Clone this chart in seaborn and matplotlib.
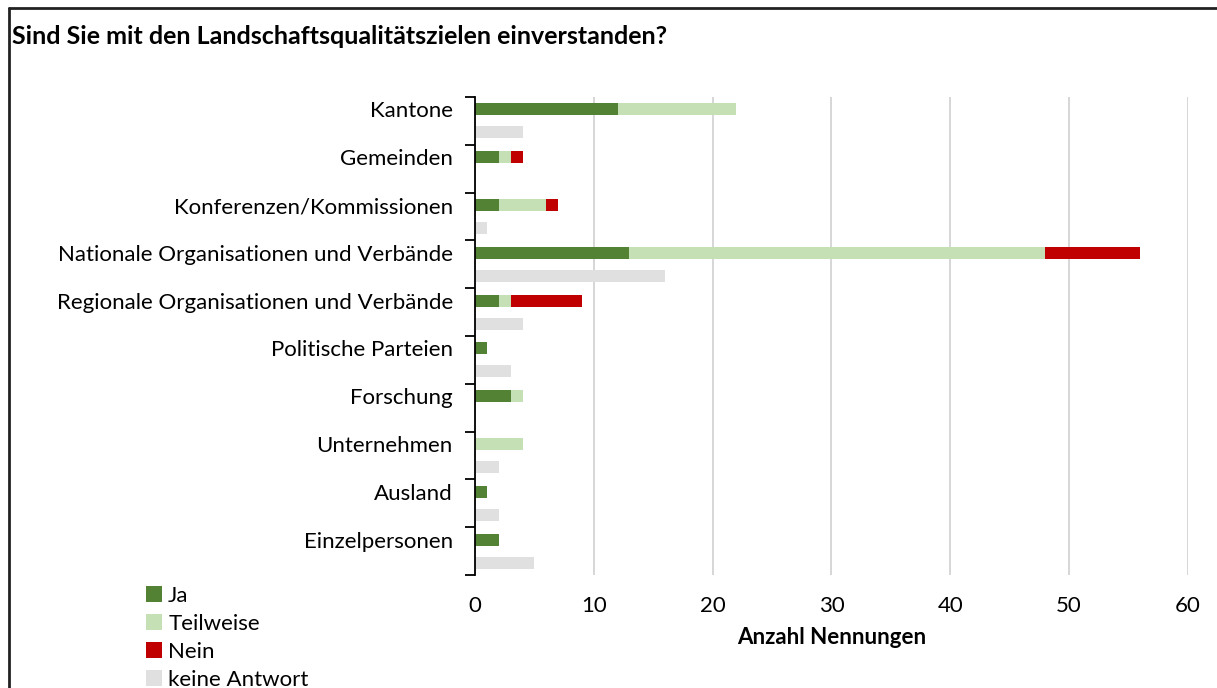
import numpy as np
import pandas as pd
import seaborn as sns
import matplotlib.pyplot as plt
from matplotlib.patches import Patch
from matplotlib.lines import Line2D

# Werte
gruppen = ["Kantone", "Gemeinden", "Konferenzen/Kommissionen",
           "Nationale Organisationen und Verbände",
           "Regionale Organisationen und Verbände", "Politische Parteien",
           "Forschung", "Unternehmen", "Ausland", "Einzelpersonen"]
ja = [12, 2, 2, 13, 2, 1, 3, 0, 1, 2]
teilweise = [10, 1, 4, 35, 1, 0, 1, 4, 0, 0]
nein = [0, 1, 1, 8, 6, 0, 0, 0, 0, 0]
keine_antwort = [4, 0, 1, 16, 4, 3, 0, 2, 2, 5]

farben = {"Ja": "#548235", "Teilweise": "#C5E0B4", "Nein": "#C00000",
          "keine Antwort": "#E0E0E0"}

sns.set_style("white")
plt.rcParams['font.family'] = ['Lato', 'DejaVu Sans']
plt.rcParams['text.color'] = 'black'
plt.rcParams['xtick.color'] = 'black'
plt.rcParams['ytick.color'] = 'black'
plt.rcParams['axes.labelcolor'] = 'black'
fs = 16

fig = plt.figure(figsize=(12.17, 6.88), dpi=100)
ax = fig.add_axes([475 / 1217, 1 - 575 / 688, (1188 - 475) / 1217, (575 - 97) / 688])

n = len(gruppen)
ja_a = np.array(ja)
teil_a = ja_a + np.array(teilweise)
nein_a = teil_a + np.array(nein)

# stacked bars: draw cumulative totals back to front
schichten = [("Nein", nein_a, keine_antwort), ("Teilweise", teil_a, [0] * n),
             ("Ja", ja_a, [0] * n)]
for name, kum, keine in schichten:
    df = pd.DataFrame({
        "Gruppe": gruppen * 2,
        "Reihe": ["Antwort"] * n + ["keine"] * n,
        "Wert": list(kum) + list(keine),
    })
    sns.barplot(data=df, x="Wert", y="Gruppe", hue="Reihe",
                hue_order=["Antwort", "keine"],
                palette={"Antwort": farben[name], "keine": farben["keine Antwort"]},
                dodge=True, width=0.96, gap=0.48, saturation=1,
                errorbar=None, linewidth=0, legend=False, ax=ax)

ax.set_xlim(0, 60)
ax.set_ylim(n - 0.5, -0.5)
ax.set_xticks(np.arange(0, 61, 10))
ax.set_yticks(np.arange(n) - 0.24, gruppen)
ax.set_yticks(np.arange(n + 1) - 0.5, minor=True)
ax.tick_params(axis='y', which='major', length=0, pad=16, labelsize=fs)
ax.tick_params(axis='y', which='minor', length=7, width=1.3, color='black', direction='out', left=True)
ax.tick_params(axis='x', length=0, pad=15, labelsize=fs)
ax.xaxis.grid(True, color='#D0D0D0', linewidth=1.2)
ax.set_axisbelow(True)
for s in ['top', 'right', 'bottom']:
    ax.spines[s].set_visible(False)
ax.spines['left'].set_color('black')
ax.spines['left'].set_linewidth(1.3)
ax.set_ylabel("")
ax.set_xlabel("Anzahl Nennungen", fontsize=fs, fontweight='bold', labelpad=8)

fig.text(12 / 1217, 1 - 37 / 688, "Sind Sie mit den Landschaftsqualitätszielen einverstanden?",
         fontsize=18, fontweight='bold', va='center', ha='left')

handles = [Patch(facecolor=farben[k], edgecolor='none') for k in farben]
fig.legend(handles, list(farben.keys()), loc='upper left',
           bbox_to_anchor=(146 / 1217, 1 - 586 / 688), frameon=False,
           fontsize=fs, handlelength=0.7, handleheight=0.7,
           handletextpad=0.3, labelspacing=0.36, borderpad=0, borderaxespad=0)

# frame of the original image
fig.add_artist(Line2D([8.5 / 1217, 8.5 / 1217], [0, 1 - 8 / 688], transform=fig.transFigure,
                      color='#222222', linewidth=2))
fig.add_artist(Line2D([8.5 / 1217, 1], [1 - 8 / 688, 1 - 8 / 688], transform=fig.transFigure,
                      color='#222222', linewidth=2))

fig.savefig("out.png", dpi=100)
